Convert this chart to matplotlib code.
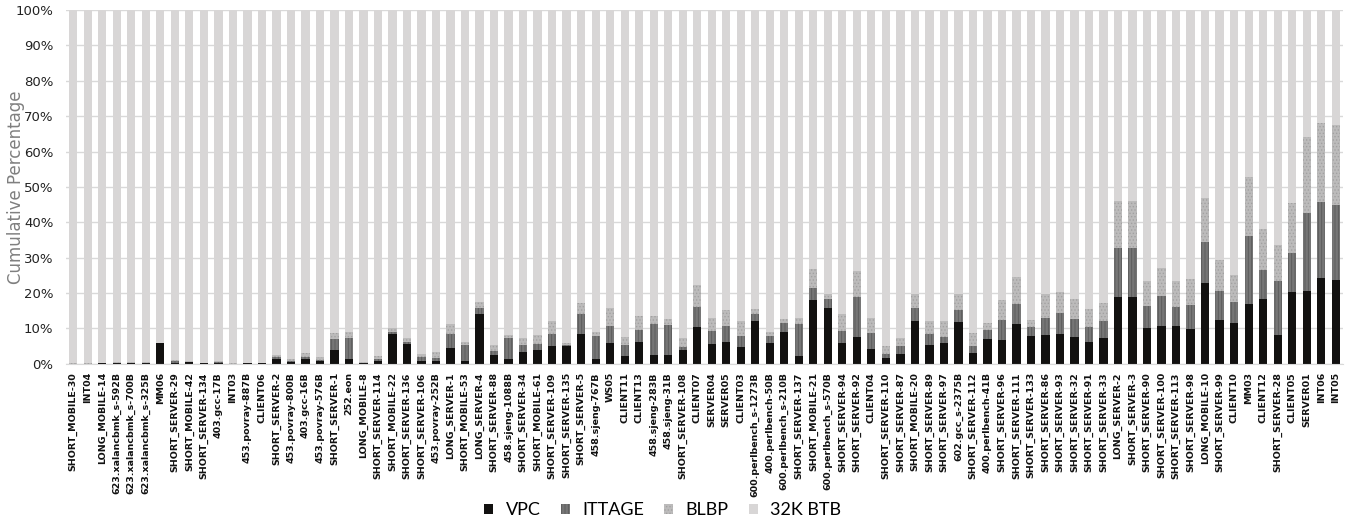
import numpy as np
import matplotlib
matplotlib.use("Agg")
import matplotlib.pyplot as plt
from matplotlib.patches import Patch

# benchmark names, left to right
workloads = [
    "SHORT_MOBILE-30", "INT04", "LONG_MOBILE-14", "623.xalancbmk_s-592B",
    "623.xalancbmk_s-700B", "623.xalancbmk_s-325B", "MM06", "SHORT_SERVER-29",
    "SHORT_MOBILE-42", "SHORT_SERVER-134", "403.gcc-17B", "INT03",
    "453.povray-887B", "CLIENT06", "SHORT_SERVER-2", "453.povray-800B",
    "403.gcc-16B", "453.povray-576B", "SHORT_SERVER-1", "252.eon",
    "LONG_MOBILE-8", "SHORT_SERVER-114", "SHORT_MOBILE-22", "SHORT_SERVER-136",
    "SHORT_SERVER-106", "453.povray-252B", "LONG_SERVER-1", "SHORT_MOBILE-53",
    "LONG_SERVER-4", "SHORT_SERVER-88", "458.sjeng-1088B", "SHORT_SERVER-34",
    "SHORT_MOBILE-61", "SHORT_SERVER-109", "SHORT_SERVER-135", "SHORT_SERVER-5",
    "458.sjeng-767B", "WS05", "CLIENT11", "CLIENT13",
    "458.sjeng-283B", "458.sjeng-31B", "SHORT_SERVER-108", "CLIENT07",
    "SERVER04", "SERVER05", "CLIENT03", "600.perlbench_s-1273B",
    "400.perlbench-50B", "600.perlbench_s-210B", "SHORT_SERVER-137", "SHORT_MOBILE-21",
    "600.perlbench_s-570B", "SHORT_SERVER-94", "SHORT_SERVER-92", "CLIENT04",
    "SHORT_SERVER-110", "SHORT_SERVER-87", "SHORT_MOBILE-20", "SHORT_SERVER-89",
    "SHORT_SERVER-97", "602.gcc_s-2375B", "SHORT_SERVER-112", "400.perlbench-41B",
    "SHORT_SERVER-96", "SHORT_SERVER-111", "SHORT_SERVER-133", "SHORT_SERVER-86",
    "SHORT_SERVER-93", "SHORT_SERVER-32", "SHORT_SERVER-91", "SHORT_SERVER-33",
    "LONG_SERVER-2", "SHORT_SERVER-3", "SHORT_SERVER-90", "SHORT_SERVER-100",
    "SHORT_SERVER-113", "SHORT_SERVER-98", "LONG_MOBILE-10", "SHORT_SERVER-99",
    "CLIENT10", "MM03", "CLIENT12", "SHORT_SERVER-28",
    "CLIENT05", "SERVER01", "INT06", "INT05",
]

# cumulative levels (%)
vpc = [
    0.0, 0.0, 0.1, 0.3, 0.3, 0.3, 5.8, 0.3,
    0.4, 0.2, 0.3, 0.0, 0.2, 0.2, 1.3, 0.6,
    1.3, 0.7, 3.8, 1.3, 0.3, 0.9, 8.3, 5.6,
    0.9, 0.8, 4.4, 0.9, 14.2, 2.4, 1.3, 3.3,
    4.0, 4.9, 5.1, 8.3, 1.5, 5.8, 2.1, 6.3,
    2.6, 2.6, 3.8, 10.5, 5.6, 6.2, 4.8, 12.0,
    5.9, 9.0, 2.1, 17.9, 15.9, 5.9, 7.5, 4.3,
    1.7, 2.7, 12.1, 5.4, 5.9, 11.7, 3.2, 7.1,
    6.7, 11.2, 7.8, 8.1, 8.3, 7.5, 6.3, 7.3,
    19.0, 19.0, 10.0, 10.8, 10.6, 9.8, 22.8, 12.4,
    11.6, 16.8, 18.3, 8.1, 20.4, 20.5, 24.2, 23.8,
]
ittage = [
    0.0, 0.0, 0.1, 0.3, 0.3, 0.3, 5.9, 0.7,
    0.5, 0.2, 0.6, 0.0, 0.2, 0.2, 1.8, 0.7,
    2.0, 1.1, 7.0, 7.2, 0.3, 1.4, 9.1, 6.2,
    2.0, 1.6, 8.5, 5.4, 15.9, 3.7, 7.4, 5.2,
    5.5, 8.3, 5.3, 14.0, 7.8, 10.7, 5.2, 9.7,
    11.2, 10.9, 4.7, 16.1, 9.2, 10.7, 7.9, 14.2,
    7.9, 11.4, 11.3, 21.4, 18.3, 9.2, 18.9, 8.8,
    2.8, 5.0, 15.7, 8.4, 7.6, 15.2, 4.9, 9.6,
    12.4, 16.9, 10.3, 12.9, 14.3, 12.6, 10.5, 12.0,
    32.8, 32.8, 16.4, 19.2, 16.2, 16.5, 34.4, 20.5,
    17.6, 36.0, 26.6, 23.3, 31.3, 42.6, 45.7, 44.9,
]
blbp = [
    0.1, 0.2, 0.2, 0.4, 0.4, 0.4, 6.0, 1.2,
    0.8, 0.3, 0.7, 0.1, 0.3, 0.3, 2.5, 1.3,
    3.2, 1.9, 8.7, 9.0, 0.4, 2.1, 10.2, 7.2,
    2.8, 3.4, 11.3, 6.2, 17.5, 5.2, 8.2, 7.3,
    8.2, 12.1, 5.8, 17.1, 9.1, 15.8, 7.7, 13.6,
    13.4, 12.7, 7.2, 22.3, 13.0, 15.1, 12.0, 15.4,
    8.9, 12.8, 13.0, 26.7, 19.6, 14.2, 26.2, 13.0,
    4.9, 7.4, 19.8, 12.0, 12.0, 19.8, 8.6, 11.6,
    18.0, 24.6, 12.5, 19.7, 20.4, 18.4, 15.5, 17.1,
    46.0, 46.0, 23.5, 27.0, 23.3, 23.9, 46.8, 29.3,
    25.0, 52.8, 38.2, 33.5, 45.4, 64.0, 68.0, 67.5,
]
series_names = ["VPC", "ITTAGE", "BLBP", "32K BTB"]
colors = ["#121110", "#767676", "#bcbbbb", "#d8d6d6"]
hatch_colors = ["#121110", "#5a5a5a", "#a2a1a1", "#d2d0d0"]
hatches = [None, "|||||", ".....", None]

plt.rcParams["hatch.linewidth"] = 0.6

x = np.arange(len(workloads))
levels = [np.array(vpc), np.array(ittage), np.array(blbp), np.full(len(workloads), 100.0)]

fig = plt.figure(figsize=(13.47, 5.25), dpi=100)
ax = fig.add_axes([0.049, 0.307, 0.948, 0.674])

bottom = np.zeros(len(workloads))
for lvl, c, hc, ht in zip(levels, colors, hatch_colors, hatches):
    h = lvl - bottom
    ax.bar(x, h, bottom=bottom, width=0.57, color=c, edgecolor=hc, hatch=ht,
           linewidth=0, zorder=2)
    bottom = lvl

ax.set_xlim(-0.5, len(workloads) - 0.5)
ax.set_ylim(0, 100)
ax.set_yticks(np.arange(0, 101, 10))
ax.set_yticklabels([f"{v}%" for v in range(0, 101, 10)], fontsize=9.5, color="#222222")
ax.yaxis.grid(True, color="#d9d9d9", linewidth=1, zorder=0)
ax.set_axisbelow(True)
for s in ["top", "right", "left"]:
    ax.spines[s].set_visible(False)
ax.spines["bottom"].set_color("#d9d9d9")
ax.tick_params(axis="both", length=0)
ax.tick_params(axis="y", pad=9)
ax.tick_params(axis="x", pad=6)

ax.set_xticks(x)
ax.set_xticklabels(workloads, rotation=90, fontsize=6.8, fontweight="bold",
                   family=["Liberation Sans Narrow", "DejaVu Sans"], color="#111111")
ax.set_ylabel("Cumulative Percentage", fontsize=12, color="#7f7f7f")
ax.yaxis.set_label_coords(-0.032, 0.5)

handles = [Patch(facecolor=c, edgecolor=hc, hatch=ht, linewidth=0)
           for c, hc, ht in zip(colors, hatch_colors, hatches)]
fig.legend(handles, series_names, loc="center", bbox_to_anchor=(0.492, 0.028),
           ncol=4, frameon=False, handlelength=0.5, handleheight=0.5,
           columnspacing=1.1, handletextpad=0.7,
           prop={"family": ["Lato", "DejaVu Sans"], "size": 13})

plt.savefig("out.png", dpi=100)
